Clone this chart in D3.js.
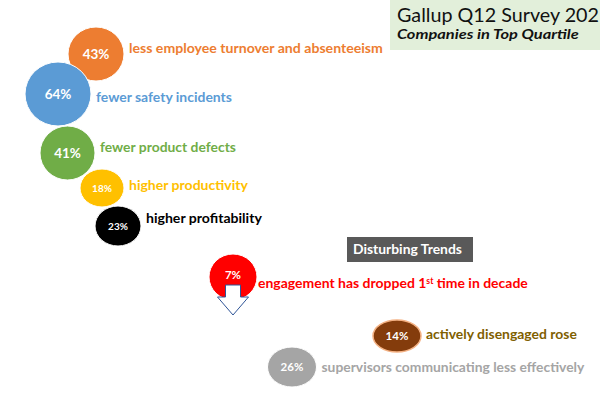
<!DOCTYPE html>
<html>
<head>
<meta charset="utf-8">
<script src="https://cdn.jsdelivr.net/npm/d3@7"></script>
<style>
  html, body { margin: 0; padding: 0; background: #fff; overflow: hidden; }
  svg { display: block; font-family: Lato, "Open Sans", sans-serif; }
</style>
</head>
<body>
<svg id="chart" width="600" height="404"></svg>
<script>
// data
const percents = ["43%", "64%", "41%", "18%", "23%", "7%", "14%", "26%"];
const captions = [
  "less employee turnover and absenteeism",
  "fewer safety incidents",
  "fewer product defects",
  "higher productivity",
  "higher profitability",
  "engagement has dropped 1|st| time in decade",
  "actively disengaged rose",
  "supervisors communicating less effectively"
];
// bubble position and size in chart units (x 0-12, y 0-8.08)
const xValues = [1.92, 1.16, 1.35, 2.04, 2.36, 4.66, 7.94, 5.84];
const yValues = [7.00, 6.20, 5.02, 4.32, 3.56, 2.54, 1.36, 0.74];
const sizeW = [0.56, 0.66, 0.55, 0.44, 0.46, 0.48, 0.48, 0.49];
const sizeH = [0.54, 0.64, 0.54, 0.38, 0.40, 0.46, 0.32, 0.40];
const titleText = "Gallup Q12 Survey 202";
const subtitleText = "Companies in Top Quartile";
const trendsText = "Disturbing Trends";

// styles
const fills = ["#ED7D31", "#5B9BD5", "#70AD47", "#FFC000", "#000000", "#FF0000", "#843C0C", "#A5A5A5"];
const strokes = ["#fff", "#fff", "#fff", "#fff", "#fff", "#fff", "#F4B183", "#fff"];
const textColors = ["#ED7D31", "#5B9BD5", "#70AD47", "#FFC000", "#000000", "#FF0000", "#7F6000", "#A5A5A5"];
const pctSize = [13.5, 13.5, 13.5, 10, 10, 11.5, 11.5, 11.5];
const labelShift = [-6, 3, -6, -3, -8, 6, -2, 0];
const labelGap = [5, 5, 5, 5, 5, 1, 5, 5];
const labelWidths = [254, 136, 136, 119, 116, 270, 151, 263];

const width = 600, height = 404;
const svg = d3.select("#chart");

const x = d3.scaleLinear().domain([0, 12]).range([0, width]);
const y = d3.scaleLinear().domain([0, 8.08]).range([height, 0]);

const data = percents.map((p, i) => ({
  pct: p, caption: captions[i],
  cx: x(xValues[i]), cy: y(yValues[i]),
  rx: x(sizeW[i]) - x(0), ry: y(0) - y(sizeH[i])
}));

// squeeze text horizontally (from its left edge) so it spans a target width
function fitWidth(sel, target) {
  sel.each(function() {
    const t = d3.select(this);
    const w = this.getComputedTextLength();
    const x0 = +t.attr("x");
    const k = target / w;
    t.attr("transform", `translate(${x0},0) scale(${k.toFixed(4)},1) translate(${-x0},0)`);
  });
}

// title box
svg.append("rect").attr("x", 390).attr("y", 0).attr("width", 210).attr("height", 50)
  .attr("fill", "#E2EFDA");
svg.append("text").attr("x", 397).attr("y", 22).attr("font-size", 19)
  .attr("fill", "#111").text(titleText).call(fitWidth, 202);
svg.append("text").attr("x", 397).attr("y", 39).attr("font-size", 13)
  .attr("font-weight", "bold").attr("font-style", "italic")
  .attr("fill", "#111").text(subtitleText).call(fitWidth, 182);

// bubbles
const g = svg.append("g");
g.selectAll("ellipse").data(data).join("ellipse")
  .attr("cx", d => d.cx).attr("cy", d => d.cy)
  .attr("rx", d => d.rx).attr("ry", d => d.ry)
  .attr("fill", (d, i) => fills[i])
  .attr("stroke", (d, i) => strokes[i])
  .attr("stroke-width", (d, i) => i === 6 ? 1.5 : 1);

// down arrow on the engagement bubble
const red = data[5];
const arrow = [
  [-7.5, 8], [7.5, 8], [7.5, 20], [15.5, 20], [0, 38], [-15.5, 20], [-7.5, 20]
].map(([dx, dy]) => [red.cx + dx, red.cy + dy]);
g.append("path").attr("d", d3.line()(arrow) + "Z")
  .attr("fill", "#fff").attr("stroke", "#2F5597").attr("stroke-width", 1);

// percent labels
g.selectAll("text.pct").data(data).join("text")
  .attr("class", "pct")
  .attr("x", d => d.cx)
  .attr("y", (d, i) => i === 5 ? d.cy - 2 : d.cy)
  .attr("dy", "0.35em")
  .attr("text-anchor", "middle")
  .attr("font-weight", "bold")
  .attr("font-size", (d, i) => pctSize[i])
  .attr("fill", "#fff")
  .text(d => d.pct);

// captions
const cap = g.selectAll("text.cap").data(data).join("text")
  .attr("class", "cap")
  .attr("x", (d, i) => d.cx + d.rx + labelGap[i])
  .attr("y", (d, i) => d.cy + labelShift[i])
  .attr("dy", "0.35em")
  .attr("font-weight", "bold")
  .attr("font-size", 14)
  .attr("fill", (d, i) => textColors[i]);

cap.each(function(d) {
  const parts = d.caption.split("|");
  const t = d3.select(this);
  parts.forEach((p, k) => {
    const ts = t.append("tspan").text(p);
    if (k % 2 === 1) ts.attr("font-size", "0.62em").attr("dy", "-0.5em");
    else if (k > 0) ts.attr("dy", "0.31em");
  });
});
cap.each(function(d, i) { d3.select(this).call(fitWidth, labelWidths[i]); });

// disturbing trends box
svg.append("rect").attr("x", 347).attr("y", 237).attr("width", 126).attr("height", 25)
  .attr("fill", "#595959");
svg.append("text").attr("x", 353).attr("y", 249.5).attr("dy", "0.35em")
  .attr("font-weight", "bold").attr("font-size", 14)
  .attr("fill", "#fff").text(trendsText).call(fitWidth, 109);
</script>
</body>
</html>
